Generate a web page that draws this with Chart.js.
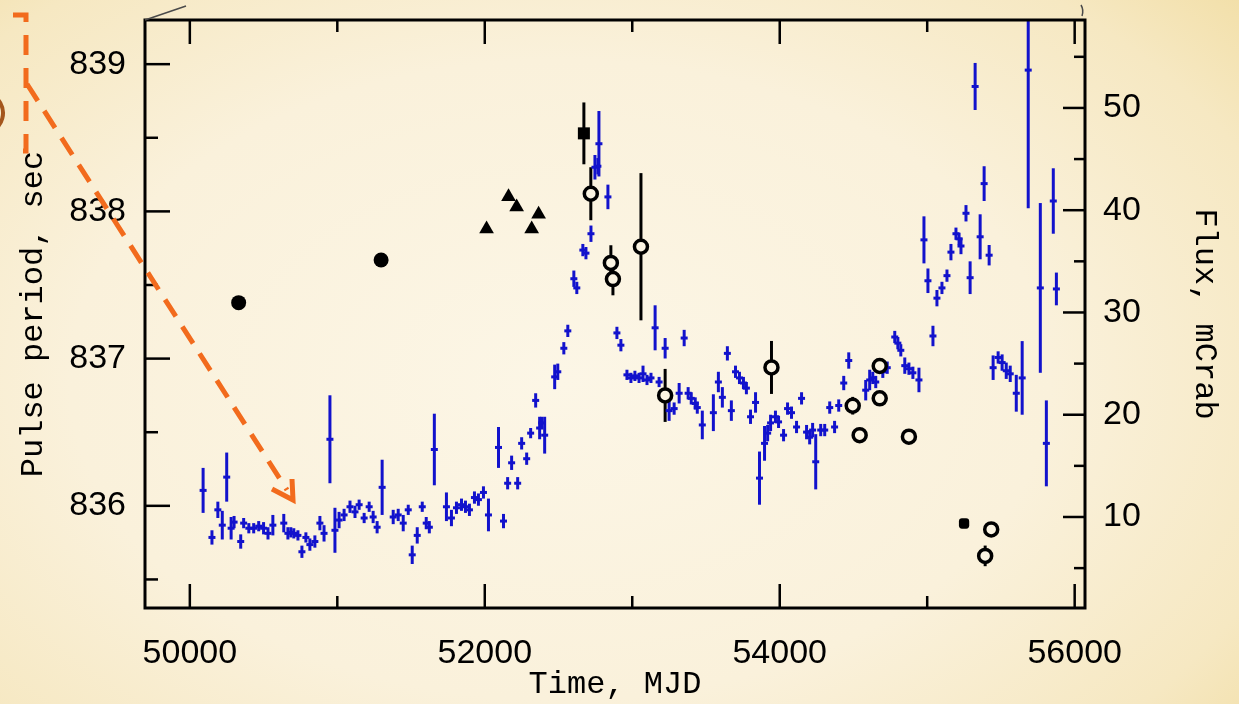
<!DOCTYPE html>
<html>
<head>
<meta charset="utf-8">
<title>Pulse period and flux history</title>
<script src="https://cdn.jsdelivr.net/npm/chart.js@4.4.1/dist/chart.umd.min.js"></script>
<style>
  html, body { margin: 0; padding: 0; }
  body {
    width: 1239px; height: 704px; overflow: hidden;
    background: radial-gradient(ellipse 980px 640px at 560px 380px,
      #fcf6e6 0%, #faf1db 50%, #f6e8c2 78%, #f0da9a 100%);
  }
  #wrap { position: relative; width: 1239px; height: 704px; }
</style>
</head>
<body>
<div id="wrap"><canvas id="c" width="1239" height="704"></canvas></div>
<script>
// ---- X-ray flux light curve (mCrab), blue points with 1-sigma errors ----
const fluxMjd = [
  50090,50150,50190,50220,50250,50280,50300,50345,50365,50400,
  50433,50467,50500,50530,50563,50637,50665,50685,50705,50733,
  50760,50787,50814,50848,50882,50910,50950,50984,51012,51046,
  51086,51120,51148,51182,51216,51243,51270,51304,51379,51413,
  51447,51481,51508,51542,51576,51603,51624,51658,51740,51774,
  51808,51842,51869,51896,51930,51957,51991,52025,52093,52127,
  52155,52182,52223,52250,52284,52311,52345,52372,52386,52406,
  52474,52495,52536,52563,52604,52624,52665,52686,52720,52747,
  52767,52774,52835,52896,52923,52964,52991,53018,53046,53073,
  53100,53127,53155,53182,53223,53250,53284,53318,53352,53379,
  53400,53427,53441,53475,53550,53584,53611,53645,53672,53700,
  53727,53754,53774,53802,53836,53863,53897,53918,53938,53971,
  53992,54026,54053,54080,54114,54148,54182,54203,54223,54244,
  54278,54305,54339,54372,54400,54434,54468,54583,54610,54631,
  54651,54699,54729,54780,54801,54821,54848,54876,54903,54944,
  54978,55005,55039,55066,55100,55134,55161,55195,55216,55229,
  55263,55291,55325,55359,55386,55420,55447,55481,55508,55536,
  55563,55604,55644,55685,55767,55808,55855,55876
];
const fluxMcrab = [
  12.6, 8.0,10.7, 9.2,13.9, 8.9, 9.5, 7.6, 9.4, 8.9,
   8.9, 9.1, 8.9, 8.4, 9.2, 9.4, 8.4, 8.5, 8.4, 8.2,
   6.6, 8.0, 7.3, 7.6, 9.4, 8.4,17.6, 8.7, 9.7,10.2,
  11.0,10.5,11.2, 9.9,11.0,10.0, 9.0,12.9,10.0,10.2,
   9.4,10.7, 6.3, 8.2,11.0, 9.4, 9.0,16.6,11.0, 9.9,
  10.9,11.2,11.0,10.7,11.9,11.7,12.4,10.2,16.8, 9.6,
  13.3,15.3,13.3,17.2,15.7,18.2,21.4,18.7,19.2,18.0,
  23.7,24.2,26.5,28.2,33.3,32.4,36.1,35.8,37.7,44.2,
  44.3,46.5,41.3,28.0,26.8,23.9,23.6,23.8,23.6,24.0,
  23.4,23.6,28.5,23.2,26.5,20.4,20.6,22.1,27.5,22.1,
  21.6,21.1,20.7,19.0,20.2,23.2,21.7,26.0,20.4,24.2,
  23.6,23.1,22.6,19.8,21.2,13.8,17.2,18.2,19.2,19.8,
  19.3,18.0,20.6,20.2,18.8,21.6,18.3,17.8,18.5,15.4,
  18.5,18.5,20.7,18.8,20.9,23.1,25.3,22.4,23.4,23.6,
  23.2,24.2,24.6,27.6,27.0,26.3,24.8,24.5,24.1,23.4,
  37.1,33.1,27.7,31.4,32.4,33.6,35.9,37.7,37.2,36.5,
  39.7,33.4,52.1,37.4,42.6,35.6,24.6,25.6,25.1,24.3,
  24.0,22.1,23.6,53.7,32.4,17.2,40.9,32.3
];
const fluxErr = [
  2.2,0.7,0.8,1.4,2.4,1.1,0.6,0.7,0.5,0.5,
  0.5,0.5,0.6,0.6,1.0,0.9,0.6,0.5,0.5,0.5,
  0.6,0.5,0.6,0.6,0.7,0.8,4.3,2.2,0.8,0.6,
  0.6,0.6,0.5,0.5,0.5,0.6,0.6,2.7,0.7,0.6,
  0.8,0.5,0.9,0.8,0.5,0.6,0.6,3.5,1.4,0.8,
  0.6,0.6,0.6,0.6,0.6,0.6,0.6,1.6,2.0,0.7,
  0.6,0.7,0.6,0.6,0.6,0.5,0.7,1.1,0.6,1.8,
  1.2,0.8,0.6,0.6,0.8,0.6,0.6,0.6,0.8,1.2,
  0.8,3.2,1.2,0.6,0.6,0.5,0.5,0.5,0.5,0.8,
  0.5,0.5,2.2,0.5,1.0,1.0,0.6,1.0,0.8,0.6,
  0.6,0.6,0.6,1.4,1.8,1.0,1.0,0.7,1.0,0.6,
  0.6,0.6,0.6,0.7,1.0,2.6,1.7,0.8,0.8,0.6,
  0.6,0.6,0.6,0.6,0.6,0.6,0.7,0.7,0.7,2.7,
  0.6,0.6,0.6,0.6,0.6,0.7,0.8,1.0,1.0,0.6,
  0.6,0.6,0.6,0.6,0.6,0.6,0.8,0.6,0.6,1.2,
  2.3,1.2,1.0,0.8,0.6,0.6,0.8,0.6,0.6,0.8,
  0.8,1.6,2.3,2.2,1.7,1.0,1.2,0.6,0.8,0.8,
  0.8,1.8,3.6,13.5,8.3,4.2,3.2,1.6
];

// ---- Pulse period measurements (s), black symbols ----
const dotMjd = [50331, 51297];
const dotPeriod = [837.38, 837.67];

const triMjd = [52012, 52161, 52216, 52318, 52365];
const triPeriod = [837.88, 838.10, 838.03, 837.88, 837.98];

const boxMjd = [52672];
const boxPeriod = [838.53];
const boxErr = [0.21];

const ringMjd = [52719, 52855, 52869, 53059, 53223, 53944, 54495, 54542, 54678, 54678, 54876, 55393, 55434];
const ringPeriod = [838.12, 837.65, 837.54, 837.76, 836.75, 836.94, 836.68, 836.48, 836.95, 836.73, 836.47, 835.66, 835.84];
const ringErr = [0.18, 0.12, 0.11, 0.50, 0.18, 0.18, 0.06, 0.05, 0.03, 0.05, 0, 0.07, 0.03];

const chipMjd = [55250];
const chipPeriod = [835.88];
const chipErr = [0.03];

// ---- axes ----
const timeRange = [49696, 56070];
const timeTicks = [50000, 52000, 54000, 56000];
const timeMinorTicks = [51000, 53000, 55000];
const periodRange = [835.306, 839.30];
const periodTicks = [836, 837, 838, 839];
const periodMinorTicks = [835.5, 836.5, 837.5, 838.5];
const fluxRange = [1.1, 58.6];
const fluxTicks = [10, 20, 30, 40, 50];
const fluxMinorTicks = [5, 15, 25, 35, 45, 55];

const BLUE = '#1212cc';
const PAPER = '#fbf4e2';

const pts = (xs, ys) => xs.map((x, i) => ({ x: x, y: ys[i] }));

// vertical error bars, drawn under the symbols and clipped to the frame
const errorBars = {
  id: 'errorBars',
  beforeDatasetsDraw(chart) {
    const ctx = chart.ctx, a = chart.chartArea;
    ctx.save();
    ctx.beginPath();
    ctx.rect(a.left, a.top, a.right - a.left, a.bottom - a.top);
    ctx.clip();
    ctx.lineCap = 'butt';
    const order = chart.data.datasets.map((d, i) => i).reverse();
    order.forEach(i => {
      const ds = chart.data.datasets[i];
      if (!ds.errors) return;
      const xs = chart.scales.x, ys = chart.scales[ds.yAxisID];
      ctx.strokeStyle = ds.errColor;
      ctx.lineWidth = ds.errWidth;
      ds.data.forEach((p, j) => {
        const e = ds.errors[j];
        if (!e) return;
        const px = xs.getPixelForValue(p.x);
        ctx.beginPath();
        ctx.moveTo(px, ys.getPixelForValue(p.y + e));
        ctx.lineTo(px, ys.getPixelForValue(p.y - e));
        ctx.stroke();
      });
    });
    ctx.restore();
  }
};

// frame with inward tick marks on all four sides
const frameTicks = {
  id: 'frameTicks',
  afterDatasetsDraw(chart) {
    const ctx = chart.ctx;
    const { left, right, top, bottom } = chart.chartArea;
    const sx = chart.scales.x, sp = chart.scales.yP, sf = chart.scales.yF;
    const seg = (x1, y1, x2, y2) => { ctx.beginPath(); ctx.moveTo(x1, y1); ctx.lineTo(x2, y2); ctx.stroke(); };
    ctx.save();
    ctx.strokeStyle = '#000';
    ctx.lineWidth = 2.5;
    timeTicks.forEach(v => { const p = sx.getPixelForValue(v); seg(p, bottom, p, bottom - 24); seg(p, top, p, top + 24); });
    timeMinorTicks.forEach(v => { const p = sx.getPixelForValue(v); seg(p, bottom, p, bottom - 12); seg(p, top, p, top + 12); });
    periodTicks.forEach(v => { const p = sp.getPixelForValue(v); seg(left, p, left + 25, p); });
    periodMinorTicks.forEach(v => { const p = sp.getPixelForValue(v); seg(left, p, left + 13, p); });
    fluxTicks.forEach(v => { const p = sf.getPixelForValue(v); seg(right, p, right - 22, p); });
    fluxMinorTicks.forEach(v => { const p = sf.getPixelForValue(v); seg(right, p, right - 11, p); });
    ctx.lineWidth = 3;
    ctx.strokeRect(left, top, right - left, bottom - top);
    ctx.restore();
  }
};

// slide annotations: dashed callout bracket and arrow
const callout = {
  id: 'callout',
  afterDraw(chart) {
    const ctx = chart.ctx;
    const { left, top } = chart.chartArea;
    ctx.save();
    // paper edge lines
    ctx.strokeStyle = '#4a4a4a';
    ctx.lineWidth = 1.5;
    ctx.beginPath(); ctx.moveTo(left, top); ctx.lineTo(left + 41, top - 14); ctx.stroke();
    ctx.beginPath(); ctx.moveTo(1081, 5); ctx.quadraticCurveTo(1084, 10, 1082, 16); ctx.stroke();
    // brown arc at the edge
    ctx.strokeStyle = '#a4561c';
    ctx.lineWidth = 4;
    ctx.beginPath(); ctx.arc(-17, 113, 20, -Math.PI / 2.4, Math.PI / 2.4); ctx.stroke();
    // dashed bracket
    ctx.strokeStyle = '#f26b1d';
    ctx.lineWidth = 5;
    ctx.setLineDash([20, 13]);
    ctx.beginPath();
    ctx.moveTo(13, 15); ctx.lineTo(26, 15); ctx.lineTo(26, 151); ctx.lineTo(13, 151);
    ctx.stroke();
    // dashed arrow shaft
    ctx.setLineDash([20, 12]);
    ctx.beginPath(); ctx.moveTo(27, 84); ctx.lineTo(287, 490); ctx.stroke();
    // arrow head
    ctx.setLineDash([]);
    ctx.lineJoin = 'miter';
    ctx.beginPath(); ctx.moveTo(272, 489); ctx.lineTo(293, 500); ctx.lineTo(292, 479); ctx.stroke();
    ctx.restore();
  }
};

const tickFont = { family: "'Liberation Sans', Arial, sans-serif", size: 34 };
const titleFont = { family: "'Liberation Mono', 'DejaVu Sans Mono', monospace", size: 32 };

// fixed axis boxes so the frame sits at the same place every time
const fixBox = (w, h) => s => {
  if (w) s.width = w;
  if (h) s.height = h;
  s.paddingTop = 0; s.paddingBottom = 0; s.paddingLeft = 0; s.paddingRight = 0;
};

new Chart(document.getElementById('c'), {
  type: 'scatter',
  data: {
    datasets: [
      {
        label: 'Pulse period (square)',
        data: pts(boxMjd, boxPeriod), errors: boxErr, errColor: '#000', errWidth: 3,
        yAxisID: 'yP', pointStyle: 'rect', pointRadius: 8.5,
        backgroundColor: '#000', borderColor: '#000', borderWidth: 0
      },
      {
        label: 'Pulse period (open circles)',
        data: pts(ringMjd, ringPeriod), errors: ringErr, errColor: '#000', errWidth: 3,
        yAxisID: 'yP', pointStyle: 'circle', pointRadius: 6.5,
        backgroundColor: PAPER, borderColor: '#000', borderWidth: 3.5
      },
      {
        label: 'Pulse period (small square)',
        data: pts(chipMjd, chipPeriod), errors: chipErr, errColor: '#000', errWidth: 3,
        yAxisID: 'yP', pointStyle: 'rectRounded', pointRadius: 6,
        backgroundColor: '#000', borderColor: '#000', borderWidth: 0
      },
      {
        label: 'Pulse period (triangles)',
        data: pts(triMjd, triPeriod),
        yAxisID: 'yP', pointStyle: 'triangle', pointRadius: 8.5,
        backgroundColor: '#000', borderColor: '#000', borderWidth: 0
      },
      {
        label: 'Pulse period (filled circles)',
        data: pts(dotMjd, dotPeriod),
        yAxisID: 'yP', pointStyle: 'circle', pointRadius: 7.5,
        backgroundColor: '#000', borderColor: '#000', borderWidth: 0
      },
      {
        label: 'Flux',
        data: pts(fluxMjd, fluxMcrab), errors: fluxErr, errColor: BLUE, errWidth: 3,
        yAxisID: 'yF', pointStyle: 'line', pointRadius: 3.5,
        backgroundColor: BLUE, borderColor: BLUE, borderWidth: 3
      }
    ]
  },
  options: {
    responsive: false,
    animation: false,
    events: [],
    layout: { padding: { top: 20, left: 0, right: 0, bottom: 0 } },
    plugins: { legend: { display: false }, tooltip: { enabled: false } },
    scales: {
      x: {
        type: 'linear', position: 'bottom',
        min: timeRange[0], max: timeRange[1],
        grid: { display: false, drawTicks: false },
        border: { display: false },
        afterBuildTicks: s => { s.ticks = timeTicks.map(v => ({ value: v })); },
        afterFit: fixBox(0, 96),
        ticks: { font: tickFont, color: '#000', padding: 25, maxRotation: 0, autoSkip: false,
                 callback: v => String(v) },
        title: { display: true, text: 'Time, MJD', font: titleFont, color: '#000',
                 padding: { top: 0, bottom: 0 } }
      },
      yP: {
        type: 'linear', axis: 'y', position: 'left',
        min: periodRange[0], max: periodRange[1],
        grid: { display: false, drawTicks: false },
        border: { display: false },
        afterBuildTicks: s => { s.ticks = periodTicks.map(v => ({ value: v })); },
        afterFit: fixBox(145, 0),
        ticks: { font: tickFont, color: '#000', padding: 19, autoSkip: false,
                 callback: v => String(v) },
        title: { display: true, text: 'Pulse period, sec', font: titleFont, color: '#000',
                 padding: { top: 14, bottom: 0 } }
      },
      yF: {
        type: 'linear', axis: 'y', position: 'right',
        min: fluxRange[0], max: fluxRange[1],
        grid: { display: false, drawTicks: false },
        border: { display: false },
        afterBuildTicks: s => { s.ticks = fluxTicks.map(v => ({ value: v })); },
        afterFit: fixBox(154, 0),
        ticks: { font: tickFont, color: '#000', padding: 18, autoSkip: false,
                 callback: v => String(v) },
        title: { display: true, text: 'Flux, mCrab', font: titleFont, color: '#000',
                 padding: { top: 15, bottom: 0 } }
      }
    }
  },
  plugins: [errorBars, frameTicks, callout]
});
</script>
</body>
</html>
